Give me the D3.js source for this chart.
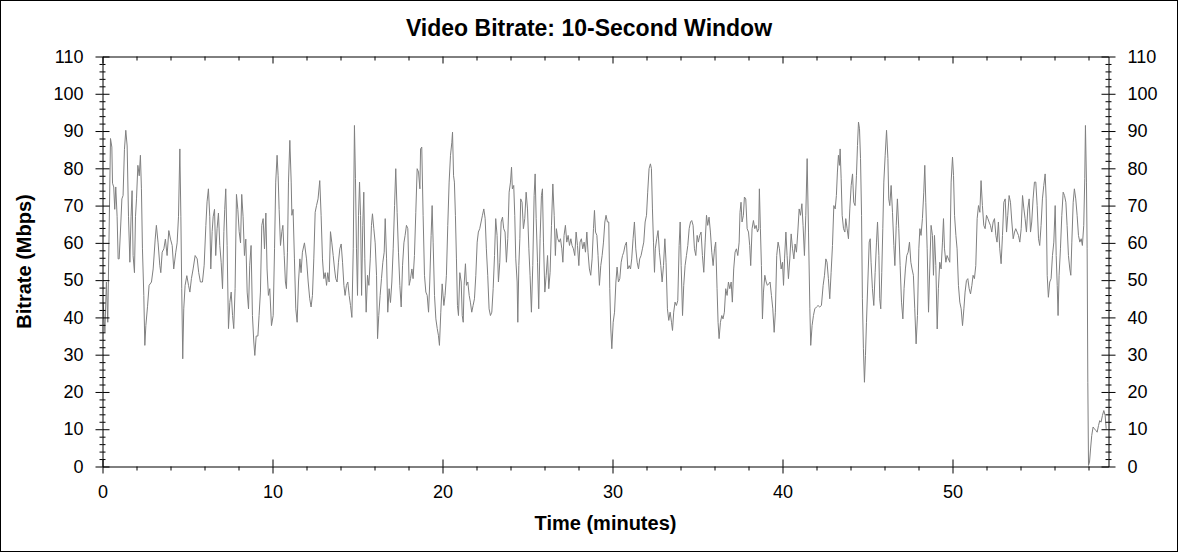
<!DOCTYPE html>
<html>
<head>
<meta charset="utf-8">
<script src="https://cdn.jsdelivr.net/npm/d3@7"></script>
<style>
  body { margin: 0; background: #fff; }
  svg { display: block; font-family: "Liberation Sans", Arial, sans-serif; }
</style>
</head>
<body>
<svg id="chart"></svg>
<script>
// Chart size
const width = 1178;
const height = 552;

// Bitrate samples [minute, Mbps] in 10-minute stretches
const bitrate00 = [[0.04,44],[0.14,36],[0.23,49.5],[0.31,38.7],[0.47,88],[0.55,85.7],[0.59,76],[0.66,75],[0.72,69],[0.78,75],[0.86,67],[0.92,55.7],[0.98,55.7],[1.08,65.6],[1.14,71.8],[1.21,72.7],[1.29,85],[1.37,90.2],[1.45,86],[1.53,67],[1.61,54.8],[1.68,67],[1.74,74],[1.80,56.6],[1.88,52],[1.94,67],[2.00,71.8],[2.08,80.8],[2.16,78],[2.23,83.5],[2.29,74.5],[2.35,58.4],[2.43,45.9],[2.49,32.5],[2.55,37.8],[2.65,43],[2.74,48.6],[2.88,49.5],[2.98,53],[3.10,61],[3.17,64.7],[3.27,60],[3.37,54],[3.43,52],[3.51,57.5],[3.61,58.4],[3.70,61],[3.80,56.6],[3.90,63.3],[4.00,61],[4.10,59.3],[4.19,53],[4.31,57.5],[4.39,60],[4.47,67],[4.55,85.2],[4.61,67],[4.66,47.7],[4.72,28.9],[4.78,42.3],[4.86,48.6],[4.96,51.2],[5.06,48.6],[5.14,46.8],[5.23,50.4],[5.33,53],[5.45,56.6],[5.57,55.7],[5.66,52],[5.76,49.5],[5.88,49.5],[5.98,54],[6.08,64.7],[6.15,71],[6.23,74.5],[6.31,67],[6.37,53],[6.45,63],[6.51,67],[6.59,69],[6.66,56.6],[6.74,63.8],[6.82,68],[6.90,59.3],[6.98,54.8],[7.06,47.7],[7.14,63],[7.19,69],[7.25,74.5],[7.33,59.3],[7.41,37],[7.49,44],[7.57,46.8],[7.65,40.5],[7.72,37],[7.80,47.7],[7.88,73],[7.96,69],[8.04,63],[8.12,60],[8.19,73],[8.27,67],[8.35,56.6],[8.43,61],[8.51,46.8],[8.59,42.3],[8.66,54],[8.74,59.3],[8.82,40.5],[8.90,33.4],[8.96,29.8],[9.04,35],[9.14,35],[9.21,40.5],[9.29,46.8],[9.37,64.7],[9.45,66.5],[9.53,58.4],[9.61,68],[9.68,53],[9.76,45.9]];

const bitrate10 = [[9.84,47.7],[9.94,37.8],[10.04,40.5],[10.12,58.4],[10.19,76.3],[10.27,83.5],[10.33,78],[10.39,69],[10.47,59.3],[10.55,63],[10.61,64.7],[10.69,56.6],[10.76,49.5],[10.82,47.7],[10.88,57.5],[10.94,76.3],[11.02,87.5],[11.10,76.3],[11.14,67.4],[11.21,69],[11.29,55.7],[11.37,42.3],[11.45,38.7],[11.53,49.5],[11.61,55.7],[11.68,52],[11.76,57.5],[11.88,60],[12.00,55.7],[12.10,49.5],[12.19,45],[12.27,42.8],[12.35,45.9],[12.43,55.7],[12.51,68.2],[12.59,70],[12.68,71.8],[12.78,76.7],[12.86,67.4],[12.94,55.7],[13.02,50.4],[13.10,52],[13.18,48.6],[13.25,52],[13.33,49.5],[13.41,63],[13.49,60],[13.57,56.6],[13.65,53],[13.72,50.4],[13.80,49.5],[13.88,54.8],[13.96,58.4],[14.04,59.7],[14.12,54.8],[14.20,48.6],[14.27,45.9],[14.35,48.6],[14.43,49.5],[14.51,45.9],[14.59,43.2],[14.67,40],[14.75,58.4],[14.82,91.5],[14.88,77.2],[14.94,58.4],[15.00,45.9],[15.06,67.4],[15.12,76.3],[15.18,67.4],[15.24,45.9],[15.31,64.7],[15.37,73.6],[15.43,55.7],[15.51,41.4],[15.59,51.3],[15.67,48.6],[15.75,55.7],[15.82,64.7],[15.88,67.8],[15.96,63.8],[16.04,60],[16.12,51.3],[16.18,34.3],[16.25,40.5],[16.33,45.9],[16.41,50.4],[16.49,54.8],[16.57,57.5],[16.63,66.5],[16.71,55.7],[16.78,41.4],[16.86,47.7],[16.94,44],[17.02,49.5],[17.10,58.4],[17.18,70],[17.25,79.9],[17.33,68.2],[17.41,57.5],[17.49,48.6],[17.57,42.8],[17.65,54],[17.73,60],[17.80,62],[17.88,64.7],[17.96,63.8],[18.04,48.6],[18.12,50.4],[18.20,53],[18.27,50.4],[18.35,56.6],[18.43,68.2],[18.51,79.9],[18.59,79],[18.67,74.5],[18.71,85.2],[18.78,85.7],[18.86,67.4],[18.94,51.3],[19.02,46.8],[19.10,45.9],[19.18,41.4],[19.25,49.5],[19.33,62],[19.39,70],[19.45,60],[19.53,45.9],[19.61,39.6],[19.69,37],[19.76,35.2],[19.82,32.5],[19.90,41.4],[19.98,49]];

const bitrate20 = [[20.08,43.2],[20.15,45.9],[20.23,51.3],[20.31,64.7],[20.39,76.3],[20.47,83.5],[20.55,87],[20.59,89.7],[20.65,78],[20.70,76.3],[20.76,67.4],[20.82,55.7],[20.88,43.2],[20.94,40.5],[21.02,52],[21.10,49.5],[21.16,40.5],[21.22,38.7],[21.27,48.6],[21.35,54.4],[21.41,48.6],[21.49,49.5],[21.57,45.9],[21.64,44.1],[21.72,41.4],[21.80,43.2],[21.88,45],[21.96,51.3],[22.04,60.2],[22.11,62.9],[22.19,63.8],[22.27,65.6],[22.35,67.4],[22.43,69.1],[22.51,66.5],[22.58,58.4],[22.66,51.3],[22.74,42.3],[22.82,40.5],[22.90,41.4],[22.98,47.7],[23.06,56.6],[23.13,66.5],[23.21,62],[23.29,49.5],[23.37,54.8],[23.45,65.6],[23.53,66.9],[23.60,63.8],[23.68,62.9],[23.76,54.8],[23.84,61.1],[23.92,73.6],[24.00,76.3],[24.06,80.3],[24.11,74.5],[24.19,75.4],[24.25,67.4],[24.31,55.7],[24.39,49.5],[24.43,38.7],[24.49,53.9],[24.55,61.1],[24.60,71.8],[24.68,70.9],[24.76,63.8],[24.84,66.5],[24.92,73.6],[25.00,69.1],[25.08,58.4],[25.15,51.3],[25.23,41.4],[25.31,53.9],[25.39,72.7],[25.45,78.5],[25.51,66.5],[25.59,54.8],[25.66,42.3],[25.74,61.1],[25.82,72.7],[25.88,74.5],[25.94,60.2],[26.02,46.8],[26.10,51.3],[26.18,56.6],[26.25,47.7],[26.33,52.1],[26.41,64.7],[26.49,75.8],[26.57,67.4],[26.64,56.6],[26.70,63.8],[26.78,61.1],[26.86,60.2],[26.94,61.1],[27.02,58.4],[27.08,54.8],[27.15,62],[27.23,64.7],[27.31,60.2],[27.39,62],[27.47,59.3],[27.55,61.1],[27.62,59.3],[27.70,58.4],[27.78,56.6],[27.86,62.9],[27.94,59.3],[28.02,53.9],[28.09,60.2],[28.17,61.1],[28.25,58.4],[28.33,60.2],[28.41,57.5],[28.49,62.9],[28.56,57.5],[28.64,53],[28.72,51.3],[28.80,55.7],[28.88,63.8],[28.94,68.7],[29.00,62.9],[29.08,62],[29.15,56.6],[29.23,48.6],[29.31,53.9],[29.39,56.6],[29.47,60.2],[29.55,65.6],[29.62,67.4],[29.70,65.6],[29.78,65.6],[29.84,47.7],[29.90,36.9],[29.96,31.6]];

const bitrate30 = [[30.04,38.7],[30.12,41.4],[30.20,49.5],[30.27,53.5],[30.35,49.5],[30.43,50.4],[30.51,54.8],[30.59,56.6],[30.66,57.5],[30.74,59.3],[30.82,60.2],[30.90,53],[30.98,53.9],[31.06,53],[31.13,55.7],[31.21,61.1],[31.29,65.6],[31.37,58.4],[31.45,54.8],[31.53,53],[31.60,55.7],[31.68,56.6],[31.76,58.4],[31.84,60.2],[31.92,65.6],[32.00,67.4],[32.07,73.6],[32.15,79.9],[32.23,81.2],[32.29,79.9],[32.35,69.1],[32.41,60.2],[32.47,52.1],[32.52,58.4],[32.60,61.1],[32.68,63.3],[32.76,57.5],[32.84,53.9],[32.92,49.5],[33.00,53.9],[33.08,61.1],[33.15,54.8],[33.23,42.3],[33.31,39.2],[33.39,41.4],[33.47,38.7],[33.53,36.5],[33.60,41.4],[33.68,44.1],[33.76,43.2],[33.84,44.5],[33.92,59.3],[33.98,65.6],[34.04,53.9],[34.12,40.5],[34.19,48.6],[34.27,53.9],[34.35,56.6],[34.43,59.3],[34.51,63.8],[34.59,65.6],[34.66,66],[34.74,64.7],[34.82,58.4],[34.90,56.6],[34.98,62],[35.05,60.2],[35.13,62],[35.21,62.9],[35.29,56.6],[35.37,52.1],[35.45,60.2],[35.53,67.4],[35.60,64.7],[35.68,66.9],[35.76,62.9],[35.84,57.5],[35.92,53.9],[36.00,58.4],[36.07,60.2],[36.15,47.7],[36.21,38.7],[36.27,34.3],[36.35,38.7],[36.43,40.5],[36.50,39.6],[36.58,41.4],[36.66,47.7],[36.74,45.9],[36.82,49.5],[36.90,47.7],[36.98,49.5],[37.05,44.1],[37.13,53],[37.21,57.5],[37.29,58.4],[37.37,56.6],[37.45,60.2],[37.50,68.2],[37.56,70.9],[37.62,65.6],[37.70,67.4],[37.76,72.3],[37.84,71.8],[37.92,63.8],[38.00,62.9],[38.07,59.3],[38.13,53.9],[38.21,63.8],[38.29,66],[38.37,63.8],[38.45,64.7],[38.53,62.9],[38.60,63.8],[38.64,74.5],[38.70,63.8],[38.76,53.9],[38.82,39.6],[38.88,46.8],[38.96,51.3],[39.04,49.5],[39.11,48.6],[39.19,49],[39.27,49.5],[39.35,45.9],[39.43,42.3],[39.51,36],[39.58,41.4],[39.66,56.6],[39.74,60.2],[39.82,58.4]];

const bitrate40 = [[39.92,53],[40.00,54.8],[40.06,48.6],[40.12,55.7],[40.20,62.9],[40.27,56.6],[40.35,50.4],[40.43,55.7],[40.51,62.4],[40.59,58.4],[40.67,55.7],[40.74,59.7],[40.82,57.5],[40.90,62.9],[40.98,69.1],[41.06,67.4],[41.14,70.5],[41.21,64.7],[41.29,56.6],[41.37,67.4],[41.45,82.6],[41.53,62.9],[41.61,42.3],[41.66,32.5],[41.74,37.8],[41.82,40.5],[41.90,42.3],[42.00,42.8],[42.09,43.2],[42.19,42.8],[42.29,43.2],[42.39,48.6],[42.47,51.3],[42.55,55.7],[42.62,54.8],[42.70,50.4],[42.78,45],[42.86,52.1],[42.94,59.3],[43.02,70],[43.10,69.1],[43.17,72.7],[43.23,79],[43.29,83.5],[43.35,80.8],[43.39,85.2],[43.45,77.2],[43.51,67.4],[43.59,63.8],[43.67,62.9],[43.72,66.5],[43.80,63.8],[43.88,61.1],[43.96,69.1],[44.04,75.4],[44.12,78.5],[44.19,70.9],[44.27,70],[44.35,78],[44.41,86.1],[44.47,92.4],[44.53,90.6],[44.59,82.6],[44.65,67.4],[44.70,45],[44.76,31.6],[44.82,22.6],[44.88,29.8],[44.94,38.7],[45.02,49.5],[45.10,60.2],[45.16,61.1],[45.21,54.8],[45.29,47.7],[45.37,43.2],[45.45,52.1],[45.53,60.2],[45.59,65.6],[45.67,56.6],[45.72,45],[45.78,42.3],[45.84,52.1],[45.90,63.8],[45.96,76.3],[46.04,83.5],[46.12,90.2],[46.20,82.6],[46.25,71.8],[46.31,70],[46.39,75.4],[46.47,68.2],[46.55,59.3],[46.61,53.9],[46.69,64.7],[46.76,71.8],[46.84,63.8],[46.92,53.9],[47.00,44.1],[47.08,39.6],[47.15,47.7],[47.23,53],[47.31,56.6],[47.39,57.5],[47.47,60.2],[47.55,54.8],[47.62,53],[47.70,51.3],[47.78,42.3],[47.86,32.9],[47.94,40.5],[48.02,58.4],[48.08,63.8],[48.15,62],[48.23,66.5],[48.31,73.6],[48.37,80.8],[48.43,70.9],[48.51,58.4],[48.59,41.4],[48.66,53],[48.74,64.7],[48.82,62],[48.88,51.3],[48.94,62],[49.02,53.9],[49.10,36.9],[49.17,47.7],[49.25,54.8],[49.33,53],[49.41,60.2],[49.47,66.5],[49.53,58.4],[49.61,54.8],[49.68,56.6],[49.76,55.7],[49.84,54.8]];

const bitrate50 = [[49.92,76.3],[50.00,83],[50.06,78.1],[50.12,67.4],[50.20,62],[50.27,58.4],[50.35,48.6],[50.43,44.1],[50.51,42.3],[50.59,37.8],[50.67,42.3],[50.74,46.8],[50.82,49.9],[50.90,50.4],[50.98,47.7],[51.06,46.3],[51.14,48.6],[51.21,51.3],[51.29,50.4],[51.37,53.9],[51.45,66.5],[51.53,70],[51.61,68.2],[51.68,76.7],[51.76,70],[51.84,64.7],[51.92,63.8],[52.00,67.4],[52.08,66.5],[52.15,65.6],[52.23,64.7],[52.31,62.9],[52.39,65.6],[52.47,66.5],[52.55,62],[52.62,60.2],[52.70,65.6],[52.78,58.4],[52.86,54.4],[52.94,62],[53.02,70.9],[53.10,71.8],[53.18,62.9],[53.25,67.4],[53.33,72.7],[53.41,70.9],[53.49,65.6],[53.57,61.1],[53.65,62.9],[53.72,63.8],[53.80,62.9],[53.88,62],[53.96,60.2],[54.04,63.8],[54.12,72.7],[54.20,69.1],[54.27,66.5],[54.35,62.9],[54.43,69.1],[54.51,71.8],[54.59,62.9],[54.66,65.6],[54.74,71.8],[54.82,76.3],[54.90,76.3],[54.98,70],[55.06,61.1],[55.13,59.3],[55.21,64.7],[55.29,71.8],[55.37,75.4],[55.45,78.5],[55.51,71.8],[55.57,51.3],[55.64,45.4],[55.72,49.5],[55.80,50.4],[55.88,56.6],[55.96,60.2],[56.04,70],[56.10,56.6],[56.16,48.6],[56.21,40.5],[56.27,51.3],[56.35,58.4],[56.43,67.4],[56.51,73.6],[56.59,72.7],[56.67,70.9],[56.74,64.7],[56.82,56.6],[56.90,53],[56.96,51.3],[57.02,60.2],[57.10,70.9],[57.17,74.5],[57.25,71.8],[57.33,67.4],[57.41,62],[57.49,60.2],[57.57,61.1],[57.64,59.3],[57.72,64.7],[57.78,77.2],[57.82,91.5],[57.88,76.3],[57.92,58.4],[57.96,22.6],[58.00,0.3],[58.06,1.2],[58.12,4.7],[58.19,8.3],[58.27,10.6],[58.35,10.1],[58.43,9.7],[58.51,9.2],[58.59,11],[58.66,12.3],[58.74,11.9],[58.82,13.7],[58.90,15],[58.98,13.7],[59.04,10.1]];

// Ticks
const xMajor = [0, 10, 20, 30, 40, 50];
const xMinor = d3.range(2, 59, 2).filter(d => d % 10 !== 0);
const yMajor = [0, 10, 20, 30, 40, 50, 60, 70, 80, 90, 100, 110];
const yMinor = d3.range(2, 110, 2).filter(d => d % 10 !== 0);

const samples = [].concat(bitrate00, bitrate10, bitrate20, bitrate30, bitrate40, bitrate50);

// Plot box
const plotLeft = 102.5, plotRight = 1108.5, plotTop = 56.5, plotBottom = 466.5;

const x = d3.scaleLinear().domain([0, (plotRight - plotLeft) / 17]).range([plotLeft, plotRight]);
const y = d3.scaleLinear().domain([0, 110]).range([plotBottom, plotTop]);

const svg = d3.select("#chart")
    .attr("width", width)
    .attr("height", height);

// outer frame
svg.append("rect")
    .attr("x", 0.5).attr("y", 0.5)
    .attr("width", width - 1).attr("height", height - 1)
    .attr("fill", "#fff")
    .attr("stroke", "#000");

// data line
svg.append("path")
    .datum(samples)
    .attr("fill", "none")
    .attr("stroke", "#808080")
    .attr("stroke-width", 1)
    .attr("d", d3.line().x(d => x(d[0])).y(d => y(d[1])));

// helper: axis of bare tick marks, no domain line or labels
function marks(axis, g) {
    g.call(axis.tickFormat(""));
    g.select(".domain").remove();
    g.selectAll("line").attr("stroke", "#000");
}

// left axis
const gl = svg.append("g").attr("transform", `translate(${plotLeft},0)`);
gl.call(d3.axisLeft(y).tickValues(yMajor).tickSize(7).tickPadding(12).tickSizeOuter(0));
marks(d3.axisLeft(y).tickValues(yMajor).tickSize(-7), gl.append("g"));
marks(d3.axisLeft(y).tickValues(yMinor).tickSize(3), gl.append("g"));
marks(d3.axisLeft(y).tickValues(yMinor).tickSize(-3), gl.append("g"));

// right axis
const gr = svg.append("g").attr("transform", `translate(${plotRight},0)`);
gr.call(d3.axisRight(y).tickValues(yMajor).tickSize(7).tickPadding(12).tickSizeOuter(0));
marks(d3.axisRight(y).tickValues(yMajor).tickSize(-7), gr.append("g"));
marks(d3.axisRight(y).tickValues(yMinor).tickSize(3), gr.append("g"));
marks(d3.axisRight(y).tickValues(yMinor).tickSize(-3), gr.append("g"));

// bottom axis
const gb = svg.append("g").attr("transform", `translate(0,${plotBottom})`);
gb.call(d3.axisBottom(x).tickValues(xMajor).tickSize(7).tickPadding(12).tickSizeOuter(0));
marks(d3.axisBottom(x).tickValues(xMajor).tickSize(-7), gb.append("g"));
marks(d3.axisBottom(x).tickValues(xMinor).tickSize(4), gb.append("g"));

// top axis, ticks pointing inward
const gt = svg.append("g").attr("transform", `translate(0,${plotTop})`);
gt.call(d3.axisTop(x).tickValues(xMajor).tickSize(-7).tickFormat("").tickSizeOuter(0));
marks(d3.axisTop(x).tickValues(xMinor).tickSize(-4), gt.append("g"));

svg.selectAll(".domain").attr("stroke", "#000");
svg.selectAll(".tick text")
    .attr("fill", "#000")
    .style("font-size", "18px")
    .style("font-family", "'Liberation Sans', Arial, sans-serif");

// title and axis titles
svg.append("text")
    .attr("x", width / 2)
    .attr("y", 36)
    .attr("text-anchor", "middle")
    .style("font-size", "23px")
    .style("font-weight", "bold")
    .text("Video Bitrate: 10-Second Window");

svg.append("text")
    .attr("x", (plotLeft + plotRight) / 2)
    .attr("y", 530)
    .attr("text-anchor", "middle")
    .style("font-size", "20px")
    .style("font-weight", "bold")
    .text("Time (minutes)");

svg.append("text")
    .attr("transform", `translate(31,${(plotTop + plotBottom) / 2}) rotate(-90)`)
    .attr("text-anchor", "middle")
    .style("font-size", "20px")
    .style("font-weight", "bold")
    .text("Bitrate (Mbps)");
</script>
</body>
</html>
